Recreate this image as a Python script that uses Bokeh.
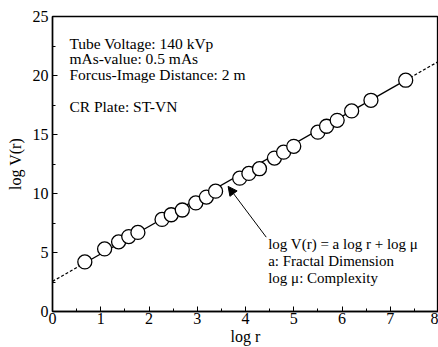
from bokeh.plotting import figure
from bokeh.models import Range1d, FixedTicker, Arrow, NormalHead
from bokeh.core.properties import value
from bokeh.embed import file_html
from bokeh.resources import INLINE

# data
log_r = [0.67, 1.08, 1.37, 1.58, 1.77, 2.27, 2.46, 2.69, 2.97, 3.19, 3.38,
         3.88, 4.07, 4.29, 4.60, 4.79, 5.00, 5.50, 5.68, 5.90, 6.20, 6.60, 7.32]
log_v = [4.2, 5.3, 5.9, 6.35, 6.7, 7.8, 8.2, 8.6, 9.2, 9.7, 10.2,
         11.3, 11.7, 12.1, 13.0, 13.5, 14.0, 15.2, 15.7, 16.2, 17.0, 17.9, 19.6]
fit_a = 2.33
fit_b = 2.55
x_ticks = [0, 1, 2, 3, 4, 5, 6, 7, 8]
y_ticks = [0, 5, 10, 15, 20, 25]

info_text = ["Tube Voltage: 140 kVp", "mAs-value: 0.5 mAs",
             "Forcus-Image Distance: 2 m", "CR Plate: ST-VN"]
info_x = [0.35, 0.35, 0.35, 0.35]
info_y = [22.7, 21.4, 20.1, 17.4]

eq_text = ["log V(r) = a log r + log μ", "a: Fractal Dimension", "log μ: Complexity"]
eq_x = [4.47, 4.47, 4.47]
eq_y = [5.7, 4.25, 2.85]

arrow_start = (4.43, 6.3)
arrow_end = (3.64, 10.6)

FONT = "Liberation Serif"

p = figure(width=438, height=347, output_backend="svg", toolbar_location=None,
           x_range=Range1d(0, 8), y_range=Range1d(0, 25),
           min_border_left=52, min_border_right=0, min_border_top=16, min_border_bottom=35)
p.grid.visible = False
p.outline_line_color = "black"
p.outline_line_width = 1.3

for ax in (p.xaxis[0], p.yaxis[0]):
    ax.major_tick_in = 5
    ax.major_tick_out = 0
    ax.minor_tick_in = 3
    ax.minor_tick_out = 0
    ax.axis_line_width = 1.5
    ax.axis_line_color = "black"
    ax.major_label_text_font = FONT
    ax.major_label_text_font_size = "16px"
    ax.major_label_text_color = "black"
    ax.axis_label_text_font = FONT
    ax.axis_label_text_font_size = "16px"
    ax.axis_label_text_font_style = "normal"
    ax.axis_label_text_color = "black"

p.xaxis[0].ticker = FixedTicker(ticks=x_ticks, minor_ticks=[v + 0.5 for v in x_ticks[:-1]])
p.yaxis[0].ticker = FixedTicker(ticks=y_ticks, minor_ticks=[v + 2.5 for v in y_ticks[:-1]])
p.xaxis[0].axis_label = "log r"
p.yaxis[0].axis_label = "log V(r)"
p.xaxis[0].major_label_standoff = 1
p.xaxis[0].axis_label_standoff = 1
p.yaxis[0].major_label_standoff = 4
p.yaxis[0].axis_label_standoff = 6

# fitted line: solid across the data, dashed outside
x_lo, x_hi = min(log_r), max(log_r)
p.line([x_lo, x_hi], [fit_a * x_lo + fit_b, fit_a * x_hi + fit_b], line_color="black", line_width=1.3)
p.line([0, x_lo], [fit_b, fit_a * x_lo + fit_b], line_color="black", line_width=1.3, line_dash="3 2")
p.line([x_hi, 8], [fit_a * x_hi + fit_b, fit_a * 8 + fit_b], line_color="black", line_width=1.3, line_dash="3 2")

p.scatter(log_r, log_v, size=14, fill_color="white", line_color="black", line_width=1.3)

p.text(info_x, info_y, text=info_text, text_font=value(FONT), text_font_size="15.5px",
       text_baseline="middle", text_color="black")
p.text(eq_x, eq_y, text=eq_text, text_font=value(FONT), text_font_size="15px",
       text_baseline="middle", text_color="black")

p.add_layout(Arrow(end=NormalHead(size=9, fill_color="black", line_color="black"),
                   x_start=arrow_start[0], y_start=arrow_start[1],
                   x_end=arrow_end[0], y_end=arrow_end[1],
                   line_color="black", line_width=1))

open("out.html", "w").write(file_html(p, INLINE))
